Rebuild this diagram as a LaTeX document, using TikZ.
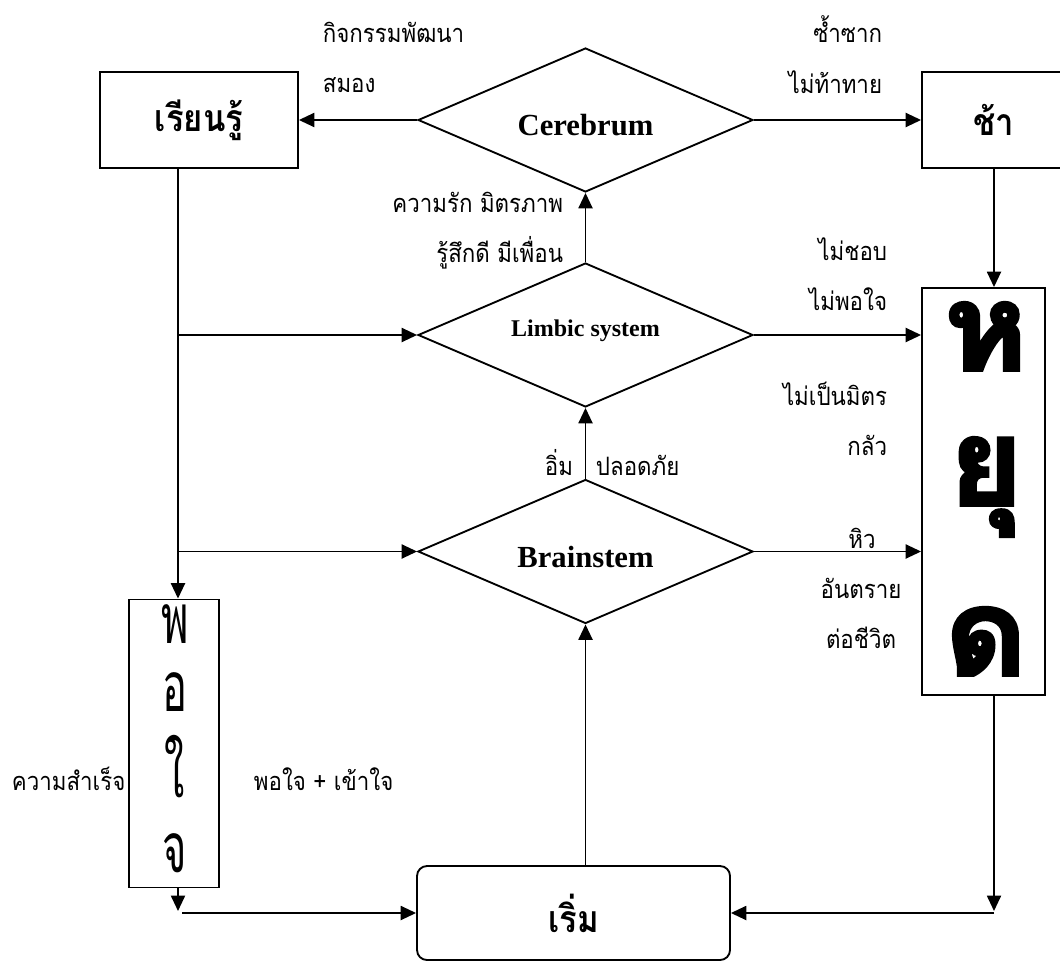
\documentclass[tikz,border=0pt]{standalone}
\usepackage{fontspec}
\setmainfont{Liberation Serif}
\newfontfamily\thai[Script=Thai,FakeStretch=0.88]{Loma}
\newfontfamily\thaibox[Script=Thai,FakeStretch=0.88]{Loma}
\newfontfamily\thainarrow[Script=Thai,FakeStretch=0.6]{Loma}
\newfontfamily\thaiheavy[Script=Thai,FakeBold=3,FakeStretch=1.05]{Loma}
\usetikzlibrary{shapes.geometric,arrows.meta}
\begin{document}
\begin{tikzpicture}[x=0.75pt,y=-0.75pt,line width=1.4pt,
  arr/.style={-{Triangle[length=11.5pt,width=10.5pt]}},
  box/.style={draw,rectangle,inner sep=0pt},
  dia/.style={draw,diamond,inner sep=0pt,minimum width=251.25pt,minimum height=108pt,aspect=2.3},
  lbl/.style={inner sep=0pt,font=\thai\fontsize{19}{21}\selectfont},
  boxtxt/.style={font=\thaibox\bfseries\fontsize{28}{32}\selectfont},
  big/.style={inner sep=0pt,font=\thaiheavy\bfseries\fontsize{90}{92}\selectfont},
  thin/.style={inner sep=0pt,font=\thainarrow\fontsize{52}{54}\selectfont}]
\useasboundingbox (0,0) rectangle (1060,963);

% boxes
\node[box,boxtxt,minimum width=148.5pt,minimum height=72pt] (learn) at (199,120) {เรียนรู้};
\node[box,boxtxt,minimum width=108pt,minimum height=72pt] (slow) at (994,120) {ช้า};
\node[box,minimum width=92.25pt,minimum height=305.25pt] (stop) at (983.5,491.5) {};
\node[box,minimum width=67.5pt,minimum height=216pt] (sat) at (174,743.5) {};
\node[box,boxtxt,rounded corners=7.5pt,minimum width=234.75pt,minimum height=70.5pt] (start) at (573.5,913) {เริ่ม};

% diamonds
\node[dia,font=\bfseries\fontsize{23}{26}\selectfont,text height=24pt,text depth=0pt] (cer) at (585.5,120) {Cerebrum};
\node[dia,font=\bfseries\fontsize{18}{22}\selectfont,text height=12.5pt,text depth=10.7pt] (lim) at (585.5,335) {Limbic system};
\node[dia,font=\bfseries\fontsize{23}{26}\selectfont,text height=24pt,text depth=0pt] (brn) at (585.5,551.5) {Brainstem};

% big letters
\node[big,anchor=base] (h1) at (986,370) {ห};
\node[big,anchor=base] (h2) at (986,505) {ยุ};
\node[big,anchor=base] (h3) at (986,675) {ด};
\node[thin,anchor=base] (p1) at (175,643) {พ};
\node[thin,anchor=base] (p2) at (175,711) {อ};
\node[thin,anchor=base] (p3) at (175,797) {ใ};
\node[thin,anchor=base] (p4) at (175,872) {จ};

% helper coordinates
\coordinate (lx) at (178,0);
\coordinate (rx) at (994,0);
\coordinate (jl) at (178,911);
\coordinate (jl2) at (182,913);
\coordinate (jr) at (994,911);

% connectors
\draw[arr] (cer.west) -- (learn.east);
\draw[arr] (cer.east) -- (slow.west);
\draw[arr] (lim.north) -- (cer.south);
\draw[arr] (brn.north) -- (lim.south);
\draw[arr] (start.north -| cer.south) -- (brn.south);
\draw[arr] (lim.east) -- (lim.east -| stop.west);
\draw[arr] (brn.east) -- (brn.east -| stop.west);
\draw[arr] (slow.south -| rx) -- (stop.north -| rx);
\draw[arr] (learn.south -| lx) -- (sat.north -| lx);
\draw[arr] (lim.west -| lx) -- (lim.west);
\draw[arr] (brn.west -| lx) -- (brn.west);
\draw[arr] (sat.south -| lx) -- (jl);
\draw[arr] (jl2) -- (start.west);
\draw[arr] (stop.south -| rx) -- (jr);
\draw[arr] (jr |- start.east) -- (start.east);

% labels
\node[lbl,anchor=base west] (t1) at (322,43) {กิจกรรมพัฒนา};
\node[lbl,anchor=base west] (t2) at (322,93) {สมอง};
\node[lbl,anchor=base east] (t3) at (883,43) {ซ้ำซาก};
\node[lbl,anchor=base east] (t4) at (883,94) {ไม่ท้าทาย};
\node[lbl,anchor=base east] (t5) at (564,212) {ความรัก มิตรภาพ};
\node[lbl,anchor=base east] (t6) at (564,262) {รู้สึกดี มีเพื่อน};
\node[lbl,anchor=base east] (t7) at (888,260) {ไม่ชอบ};
\node[lbl,anchor=base east] (t8) at (888,310) {ไม่พอใจ};
\node[lbl,anchor=base east] (t9) at (888,405) {ไม่เป็นมิตร};
\node[lbl,anchor=base east] (t10) at (888,455) {กลัว};
\node[lbl,anchor=base east] (t11) at (574,475) {อิ่ม};
\node[lbl,anchor=base west] (t12) at (595,475) {ปลอดภัย};
\node[lbl,anchor=base] (t13) at (862,548) {หิว};
\node[lbl,anchor=base] (t14) at (861,598) {อันตราย};
\node[lbl,anchor=base] (t15) at (861,648) {ต่อชีวิต};
\node[lbl,anchor=base west] (t16) at (11,790) {ความสำเร็จ};
\node[lbl,anchor=base west] (t17) at (253,790) {พอใจ + เข้าใจ};
\end{tikzpicture}
\end{document}
